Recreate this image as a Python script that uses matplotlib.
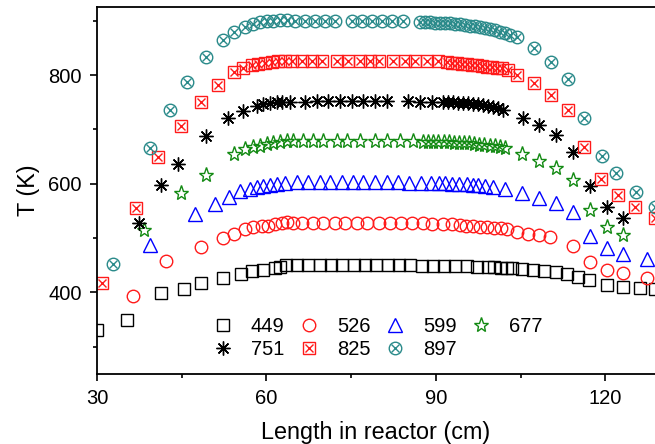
import numpy as np
import matplotlib
matplotlib.use("Agg")
import matplotlib.pyplot as plt
from matplotlib.ticker import MultipleLocator

plt.rcParams['font.family'] = ['Liberation Sans', 'DejaVu Sans']

# series: position (cm) and temperature (K)
x449 = [30.0, 35.4, 41.3, 45.4, 48.4, 52.3, 55.5, 57.4, 59.4, 61.5, 62.4, 63.5, 65.4, 67.3, 69.5,
        71.4, 73.4, 75.5, 77.4, 79.4, 81.5, 83.5, 85.4, 87.5, 89.5, 91.4, 93.4, 95.5, 97.3, 99.2,
        100.3, 101.5, 102.6, 103.5, 105.2, 107.2, 109.1, 111.2, 113.2, 115.1, 117.2, 120.3, 123.1,
        126.1, 128.8]
T449 = [330, 350, 398, 407, 417, 426, 433, 439, 441, 444, 446, 450, 450, 450, 450,
        450, 450, 450, 450, 450, 450, 450, 450, 449, 449, 449, 448, 448, 447, 446,
        446, 445, 445, 444, 443, 441, 439, 437, 433, 429, 422, 414, 410, 408, 407]

x526 = [36.3, 42.3, 48.4, 52.3, 54.2, 56.2, 57.6, 59.2, 60.3, 61.5, 62.7, 63.6, 64.7, 66.3, 68.2,
        70.1, 72.1, 74.0, 76.0, 77.9, 79.9, 81.9, 83.9, 85.8, 87.8, 89.4, 91.2, 92.8, 94.2, 95.4,
        96.6, 97.8, 99.0, 100.3, 101.5, 102.6, 104.3, 106.3, 108.2, 110.2, 114.2, 117.3, 120.3,
        123.1, 127.3]
T526 = [393, 457, 484, 500, 508, 516, 520, 522, 523, 525, 527, 529, 528, 528, 528,
        528, 528, 528, 528, 527, 527, 527, 527, 527, 527, 526, 526, 525, 524, 523,
        522, 521, 520, 519, 518, 516, 511, 508, 505, 501, 485, 455, 441, 435, 426]

x599 = [39.4, 47.4, 50.9, 53.4, 55.3, 57.1, 58.3, 59.4, 60.6, 61.9, 63.3, 65.4, 67.3, 69.5, 71.2,
        73.4, 75.3, 77.1, 79.2, 81.3, 83.3, 85.3, 87.4, 89.1, 90.5, 91.7, 92.9, 94.1, 95.5, 96.5,
        97.4, 98.7, 100.1, 102.2, 105.2, 108.2, 111.2, 114.2, 117.3, 120.3, 123.1, 127.3]
T599 = [487, 544, 562, 575, 586, 591, 593, 596, 598, 600, 602, 603, 603, 603, 603,
        603, 603, 603, 603, 603, 603, 602, 602, 602, 601, 601, 600, 600, 599, 598,
        597, 596, 594, 590, 583, 573, 564, 548, 503, 481, 470, 461]

x677 = [38.3, 44.9, 49.3, 54.2, 56.2, 57.6, 58.8, 60.1, 61.2, 62.4, 63.6, 64.7, 66.5, 68.2, 70.0,
        72.5, 74.2, 76.5, 79.2, 81.3, 83.6, 85.9, 87.7, 88.6, 89.5, 90.4, 91.4, 92.3, 93.2, 94.1,
        95.0, 95.9, 96.8, 97.7, 98.6, 99.5, 100.4, 101.3, 102.2, 105.2, 108.2, 111.2, 114.2,
        117.3, 120.3, 123.1]
T677 = [514, 582, 616, 654, 663, 667, 670, 673, 675, 677, 678, 678, 678, 678, 678,
        678, 678, 678, 678, 678, 678, 678, 677, 677, 677, 677, 676, 676, 675, 675,
        674, 674, 673, 672, 671, 670, 669, 667, 665, 654, 641, 628, 606, 552, 520, 505]

x751 = [37.4, 41.3, 44.3, 49.3, 53.2, 55.8, 58.3, 59.4, 60.6, 61.9, 62.7, 64.2, 66.8, 68.9, 70.9,
        73.0, 75.1, 77.1, 79.2, 81.3, 85.0, 87.2, 89.3, 91.2, 92.1, 93.0, 93.9, 94.8, 95.7, 96.5,
        97.4, 98.3, 99.2, 100.1, 101.0, 101.9, 105.4, 108.2, 111.2, 114.2, 117.3, 120.3, 123.1]
T751 = [527, 597, 636, 687, 721, 734, 743, 747, 749, 750, 751, 751, 751, 752, 752,
        752, 752, 752, 752, 752, 752, 751, 751, 751, 750, 750, 749, 749, 748, 747,
        746, 745, 743, 741, 739, 736, 721, 708, 690, 658, 595, 557, 536]

x825 = [30.9, 36.9, 40.8, 44.9, 48.4, 51.4, 54.2, 55.8, 57.4, 58.5, 59.7, 61.0, 62.0, 63.3, 64.5,
        66.3, 68.1, 69.8, 72.5, 74.4, 76.5, 78.3, 80.0, 82.4, 84.5, 86.3, 88.4, 90.4, 92.0, 92.8,
        93.7, 94.6, 95.5, 96.4, 97.3, 98.2, 99.0, 99.9, 100.8, 101.7, 102.7, 104.3, 107.3, 110.4,
        113.4, 116.2, 119.2, 122.2, 125.2, 128.8]
T825 = [418, 555, 649, 707, 750, 782, 806, 813, 818, 821, 823, 824, 825, 826, 826,
        826, 826, 826, 826, 826, 826, 826, 826, 826, 825, 825, 825, 825, 824, 823,
        822, 821, 820, 819, 818, 817, 815, 814, 813, 812, 810, 800, 785, 763, 735,
        668, 608, 579, 558, 536]

x897 = [32.8, 39.4, 42.9, 45.9, 49.3, 52.3, 54.2, 56.2, 57.6, 58.8, 60.1, 61.2, 62.4, 63.6, 65.0,
        66.8, 68.6, 70.4, 72.1, 75.1, 76.9, 78.7, 80.4, 82.2, 84.2, 87.2, 88.1, 89.0, 89.9, 90.7,
        91.6, 92.5, 93.4, 94.3, 95.1, 96.0, 96.9, 97.8, 98.7, 99.6, 100.4, 101.3, 102.2, 103.1,
        104.3, 107.3, 110.4, 113.4, 116.2, 119.4, 121.9, 125.4, 128.8]
T897 = [453, 665, 735, 787, 833, 864, 879, 888, 894, 898, 900, 900, 901, 901, 900,
        900, 900, 900, 900, 900, 900, 900, 900, 900, 899, 897, 897, 897, 896, 896,
        896, 895, 894, 893, 892, 891, 890, 888, 886, 884, 882, 880, 877, 874, 870,
        850, 824, 792, 720, 651, 619, 585, 557]

labels = ['449', '526', '599', '677', '751', '825', '897']

RED = '#ff1a1a'
TEAL = '#2a8a8a'
GREEN = '#138a13'

fig = plt.figure(figsize=(6.55, 4.44), dpi=100)
ax = fig.add_axes([0.148, 0.158, 0.852, 0.826])

def pts(x, y, **kw):
    kw.setdefault('markerfacecolor', 'none')
    kw.setdefault('markeredgewidth', 1.0)
    h, = ax.plot(x, y, linestyle='none', **kw)
    return h

h449 = pts(x449, T449, marker='s', markersize=8, markeredgecolor='black')
h526 = pts(x526, T526, marker='o', markersize=9, markeredgecolor=RED)
h599 = pts(x599, T599, marker='^', markersize=9.5, markeredgecolor='blue')
h677 = pts(x677, T677, marker='*', markersize=11, markeredgecolor=GREEN)
h751 = pts(x751, T751, marker=(8, 2, 0), markersize=10, markeredgecolor='black')
h825a = pts(x825, T825, marker='s', markersize=8, markeredgecolor=RED)
h825b = pts(x825, T825, marker='x', markersize=6, markeredgecolor=RED)
h897a = pts(x897, T897, marker='o', markersize=9, markeredgecolor=TEAL)
h897b = pts(x897, T897, marker='x', markersize=6, markeredgecolor=TEAL)

# legend fills column by column, so order the handles to read row-wise
handles = [h449, h751, h526, (h825a, h825b), h599, (h897a, h897b), h677]
order = [0, 4, 1, 5, 2, 6, 3]
leg = ax.legend(handles, [labels[i] for i in order], ncol=4, frameon=False,
                loc='lower left', bbox_to_anchor=(0.175, -0.01), fontsize=14.5,
                handlelength=1.0, handletextpad=0.9, columnspacing=0.7,
                labelspacing=0.2, markerscale=1.0)

ax.set_xlim(30, 128.8)
ax.set_ylim(250, 925)
ax.xaxis.set_major_locator(MultipleLocator(30))
ax.xaxis.set_minor_locator(MultipleLocator(15))
ax.yaxis.set_major_locator(MultipleLocator(200))
ax.yaxis.set_minor_locator(MultipleLocator(100))
ax.tick_params(which='major', direction='out', length=5, width=1.2, labelsize=14.5, pad=6)
ax.tick_params(which='minor', direction='out', length=3, width=1.2)
ax.tick_params(top=False, right=False)
for s in ['left', 'bottom', 'top']:
    ax.spines[s].set_linewidth(1.3)
ax.spines['right'].set_visible(False)

ax.set_xlabel('Length in reactor (cm)', fontsize=16.8, labelpad=9)
ax.set_ylabel('T (K)', fontsize=16.8, labelpad=6)

fig.savefig('out.png', dpi=100)
